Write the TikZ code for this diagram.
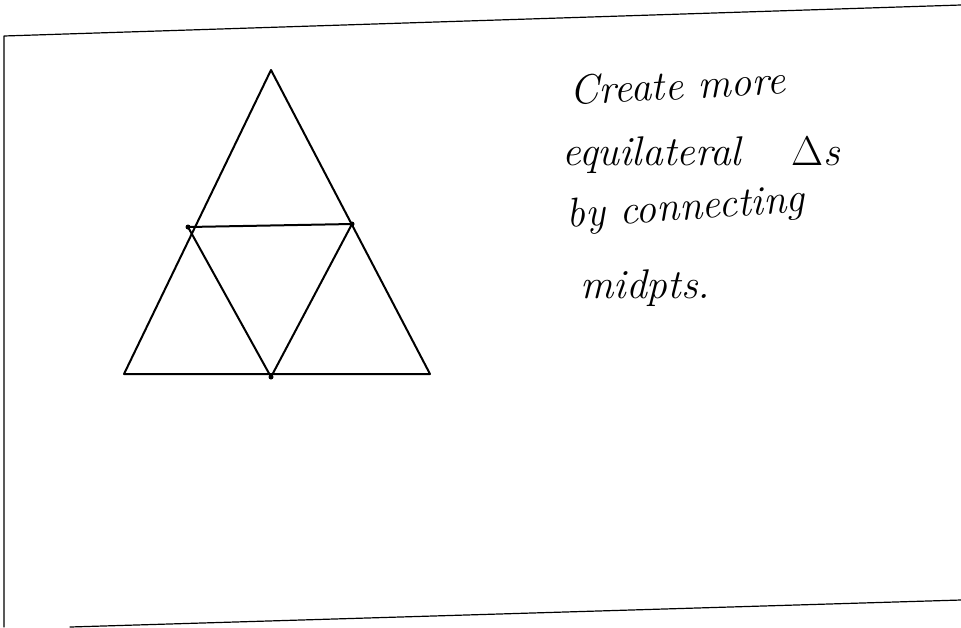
\documentclass[tikz,border=0pt]{standalone}
\begin{document}
\begin{tikzpicture}[x=0.5pt, y=-0.5pt, line join=round, line cap=round, font=\huge\itshape]
				\useasboundingbox (0,0) rectangle (961,627);
				\path
				(271,70) coordinate (A)
				(124,374) coordinate (B)
				(430,374) coordinate (C)
				(188,227) coordinate (M_AB)
				(352,224) coordinate (M_AC)
				(271,377) coordinate (M_BC)
				(4,36) coordinate (P_1)
				(961,5) coordinate (P_2)
				(4,627) coordinate (P_3)
				(70,627) coordinate (P_4)
				(961,600) coordinate (P_5)
				;
				% the card
				\draw[line width=0.6pt] (P_2) -- (P_1) -- (P_3);
				\draw[line width=0.6pt] (P_4) -- (P_5);
				% big triangle and the midpoint one
				\draw[line width=1pt] (A) -- (B) -- (C) -- cycle;
				\draw[line width=1pt] (M_AB) -- (M_AC) -- (M_BC) -- cycle;
				\fill (M_AB) circle (2.5) (M_AC) circle (2.5) (M_BC) circle (2.5);
				% note
				\node[anchor=base west, rotate=3, inner sep=0pt] (l1) at (570,105) {Create more};
				\node[anchor=base west, inner sep=0pt] (l2) at (562,165) {equilateral\hspace{1.2em}$\Delta$s};
				\node[anchor=base west, rotate=4, inner sep=0pt] (l3) at (567,228) {by connecting};
				\node[anchor=base west, inner sep=0pt] (l4) at (580,298) {midpts.};
			\end{tikzpicture}
\end{document}
